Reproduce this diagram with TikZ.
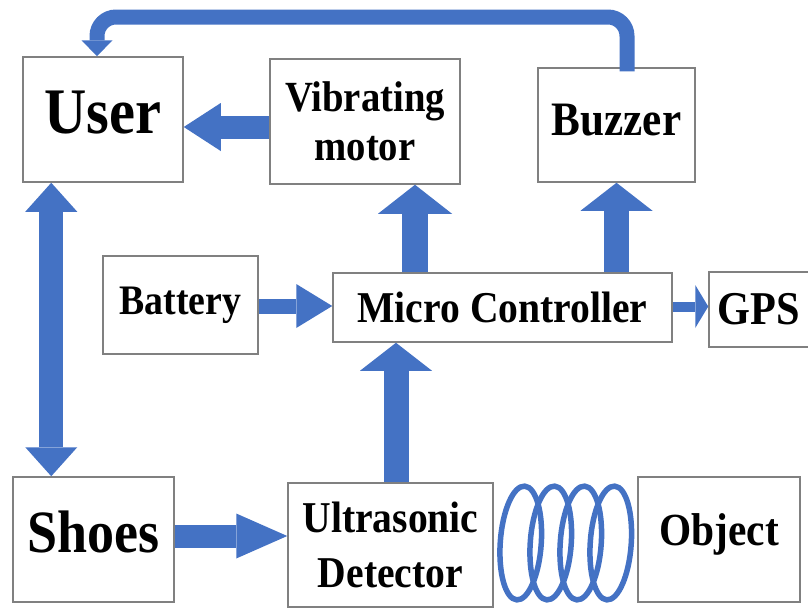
\documentclass[tikz,border=0pt]{standalone}
\usepackage{fontspec}
\setmainfont[FakeStretch=0.9]{Liberation Serif}
\usetikzlibrary{arrows.meta,calc}
\definecolor{arrowblue}{HTML}{4472C4}
\definecolor{boxgray}{HTML}{808080}
\tikzstyle{block} = [draw=boxgray, line width=1.5pt, fill=white, inner sep=0pt, align=center]
\tikzstyle{ring} = [draw=arrowblue, line width=5.5pt]
\tikzset{
  blockarrow/.style n args={3}{draw=arrowblue, line width=#1, -{Triangle[width=#2,length=#3,line width=0pt]}},
  bothblock/.style n args={3}{draw=arrowblue, line width=#1, {Triangle[width=#2,length=#3,line width=0pt]}-{Triangle[width=#2,length=#3,line width=0pt]}}
}

\begin{document}
\begin{tikzpicture}[x=1pt,y=-1pt]
            \useasboundingbox (0,0) rectangle (808,608);
            % boxes
            \node[block, minimum width=160pt, minimum height=125pt, text height=43pt, text depth=16pt, font=\bfseries\fontsize{65}{70}\selectfont] (User) at (103,119.5) {User};
            \node[block, minimum width=190pt, minimum height=125pt, font=\bfseries\fontsize{43}{49}\selectfont] (Vib) at (365,121.5) {Vibrating\\motor};
            \node[block, minimum width=157pt, minimum height=114pt, text height=32pt, text depth=12pt, font=\bfseries\fontsize{48}{52}\selectfont] (Buzzer) at (616.5,125) {Buzzer};
            \node[block, minimum width=155pt, minimum height=98pt, font=\bfseries\fontsize{42}{46}\selectfont] (Battery) at (180.5,305) {Battery};
            \node[block, minimum width=339pt, minimum height=69pt, font=\bfseries\fontsize{44}{48}\selectfont] (Micro) at (502.5,307.5) {Micro Controller};
            \node[block, minimum width=100pt, minimum height=75pt, font=\bfseries\fontsize{47}{50}\selectfont] (GPS) at (759,309.5) {GPS};
            \node[block, minimum width=161pt, minimum height=125pt, text height=40pt, text depth=15pt, font=\bfseries\fontsize{60}{64}\selectfont] (Shoes) at (93.5,539.5) {Shoes};
            \node[block, minimum width=205pt, minimum height=124pt, font=\bfseries\fontsize{44}{55}\selectfont] (Ultra) at (390.5,545) {Ultrasonic\\Detector};
            \node[block, minimum width=162pt, minimum height=125pt, text height=31pt, text depth=20pt, font=\bfseries\fontsize{46}{50}\selectfont] (Object) at (719,539.5) {Object};
            % arrows
            \draw[blockarrow={23pt}{48pt}{37pt}] ([yshift=-5.5pt]Vib.west) -- ([yshift=-5.5pt]Vib.west -| User.east);
            \draw[blockarrow={15pt}{44pt}{36pt}] ([yshift=-1pt]Battery.east) -- ([yshift=-1pt]Battery.east -| Micro.west);
            \draw[blockarrow={10pt}{43pt}{13pt}] ([yshift=1pt]Micro.east) -- ([yshift=1pt]Micro.east -| GPS.west);
            \draw[blockarrow={26pt}{74pt}{29pt}] ([xshift=-87.5pt]Micro.north) -- ([xshift=-87.5pt]Micro.north |- Vib.south);
            \draw[blockarrow={25pt}{72pt}{28pt}] (Buzzer.south |- Micro.north) -- (Buzzer.south);
            \draw[blockarrow={25pt}{72pt}{28pt}] ([xshift=5.5pt]Ultra.north) -- ([xshift=5.5pt]Ultra.north |- Micro.south);
            \draw[blockarrow={23pt}{45pt}{51pt}] ([yshift=3.5pt]Shoes.east) -- ([yshift=3.5pt]Shoes.east -| Ultra.west);
            \draw[bothblock={24pt}{52pt}{29pt}] ([xshift=29pt]User.south west) -- ([xshift=29pt]User.south west |- Shoes.north);
            % feedback from buzzer to user
            \coordinate (bend) at (97,17);
            \draw[draw=arrowblue, line width=15pt, rounded corners=19pt, -{Triangle[width=31pt,length=16pt,line width=0pt]}] ([xshift=10.5pt,yshift=-4pt]Buzzer.north) |- (bend) -- (bend |- User.north);
            % rings
            \foreach \k in {0,...,3}{
              \coordinate (r\k) at ([xshift=27pt+30pt*\k, yshift=2pt]Ultra.east);
              \begin{scope}[shift={(r\k)}, rotate=-4]
                \draw[ring] (0,0) ellipse (20.5pt and 57pt);
              \end{scope}
            }
\end{tikzpicture}
\end{document}
